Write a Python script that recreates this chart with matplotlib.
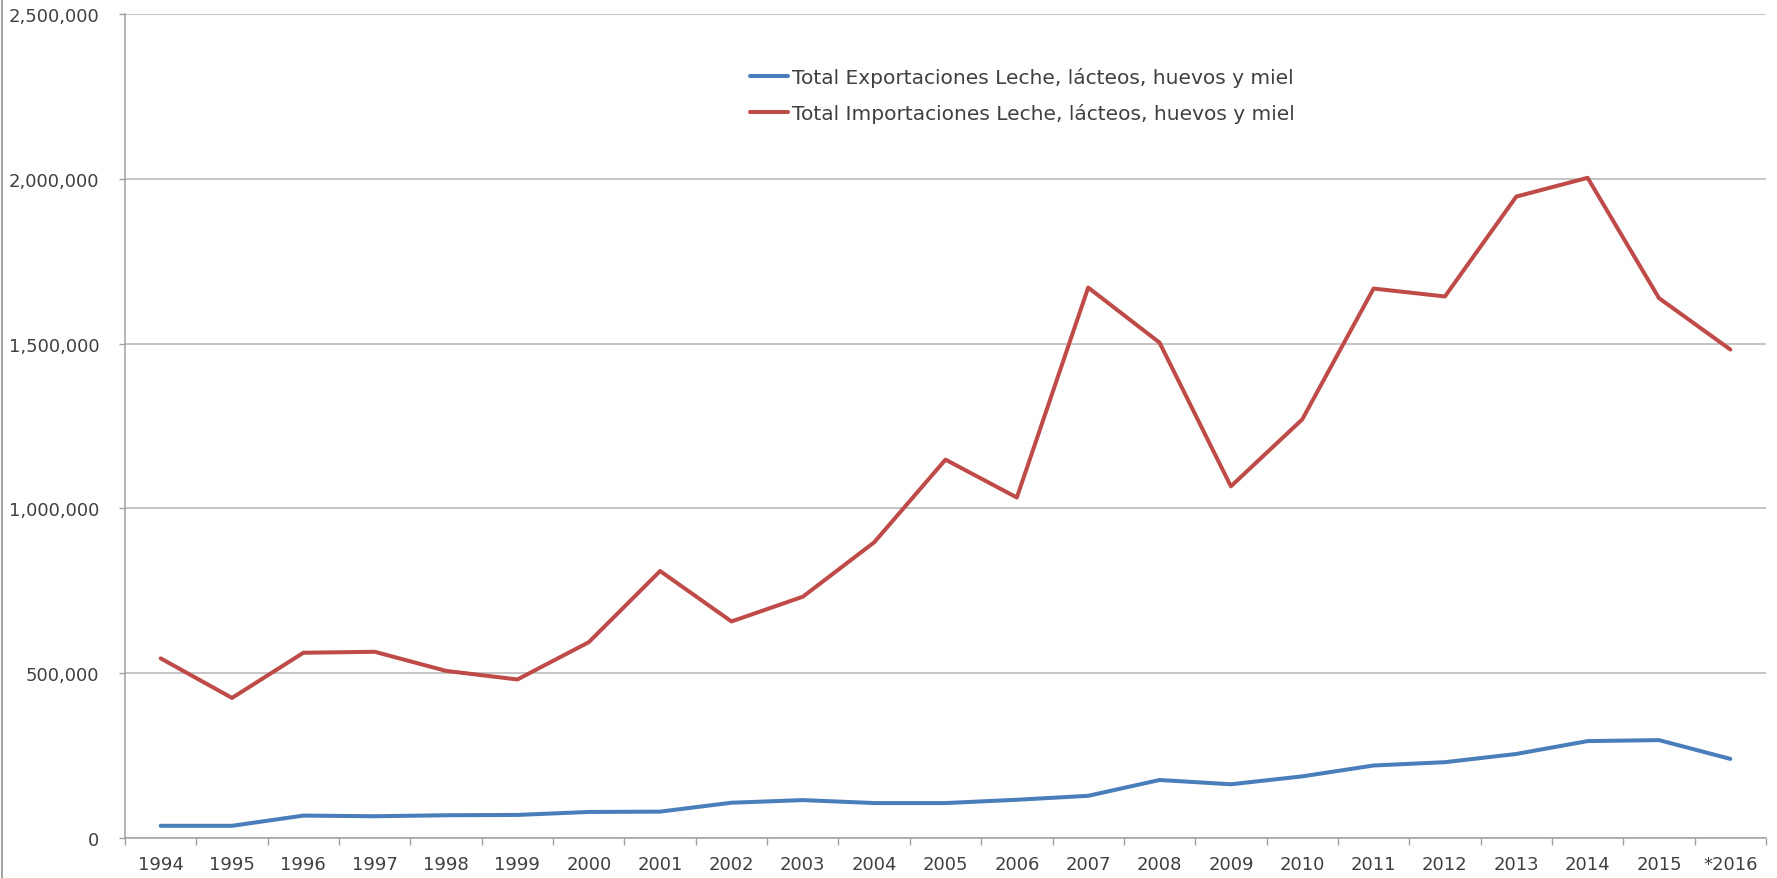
import numpy as np
import matplotlib
matplotlib.use("Agg")
import matplotlib.pyplot as plt
from matplotlib.ticker import FuncFormatter, FixedLocator
from matplotlib.lines import Line2D

# datos
anios = ["1994", "1995", "1996", "1997", "1998", "1999", "2000", "2001", "2002",
         "2003", "2004", "2005", "2006", "2007", "2008", "2009", "2010", "2011",
         "2012", "2013", "2014", "2015", "*2016"]
exportaciones = [37000, 37000, 68000, 66000, 69000, 70000, 79000, 80000, 107000,
                 115000, 106000, 106000, 116000, 128000, 176000, 163000, 187000,
                 220000, 230000, 255000, 294000, 297000, 240000]
importaciones = [545000, 425000, 562000, 565000, 507000, 481000, 594000, 810000,
                 657000, 732000, 897000, 1148000, 1033000, 1670000, 1503000,
                 1067000, 1270000, 1667000, 1643000, 1946000, 2003000, 1638000,
                 1482000]
nombre_exp = "Total Exportaciones Leche, lácteos, huevos y miel"
nombre_imp = "Total Importaciones Leche, lácteos, huevos y miel"

plt.rcParams['font.family'] = ['DejaVu Sans']
gris_txt = '#404040'
gris_eje = '#a0a0a0'

fig = plt.figure(figsize=(17.77, 8.79), dpi=100)
ax = fig.add_axes([125 / 1777, 40 / 879, 1641 / 1777, 824 / 879])

x = np.arange(len(anios))
ax.plot(x, exportaciones, color='#4a7ebb', lw=2.9, label=nombre_exp, solid_capstyle='round')
ax.plot(x, importaciones, color='#be4b48', lw=2.9, label=nombre_imp, solid_capstyle='round')

ax.set_xlim(-0.5, len(anios) - 0.5)
ax.set_ylim(0, 2500000)
ax.set_yticks(np.arange(0, 2500001, 500000))
ax.yaxis.set_major_formatter(FuncFormatter(lambda v, p: f"{int(v):,}"))
ax.grid(axis='y', color='#b4b4b4', lw=1.1)
ax.set_axisbelow(True)

# etiquetas en el centro, marcas entre categorias
ax.set_xticks(x)
ax.set_xticklabels(anios)
ax.xaxis.set_minor_locator(FixedLocator(np.arange(-0.5, len(anios), 1.0)))
ax.tick_params(axis='x', which='major', length=0, pad=12, labelsize=13, labelcolor=gris_txt)
ax.tick_params(axis='x', which='minor', length=5, width=1, color=gris_eje)
ax.tick_params(axis='y', length=4.5, width=1, color=gris_eje, pad=14, labelsize=13,
               labelcolor=gris_txt)

for s in ['top', 'right']:
    ax.spines[s].set_visible(False)
for s in ['left', 'bottom']:
    ax.spines[s].set_color(gris_eje)
    ax.spines[s].set_linewidth(1.1)

ax.legend(loc='upper left', bbox_to_anchor=(0.381, 0.936), frameon=False,
          fontsize=14.5, handlelength=1.9, handletextpad=0.15, labelspacing=0.8,
          borderaxespad=0, borderpad=0, labelcolor=gris_txt)

# borde izquierdo del marco
fig.add_artist(Line2D([1.5 / 1777, 1.5 / 1777], [0, 1], color='#909090', lw=1.2))

fig.savefig("out.png", dpi=100, facecolor='white')
